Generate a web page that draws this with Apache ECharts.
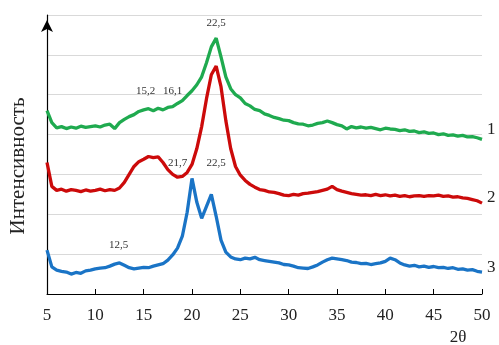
<!DOCTYPE html>
<html><head><meta charset="utf-8">
<script src="https://cdn.jsdelivr.net/npm/echarts@6/dist/echarts.min.js"></script>
<style>html,body{margin:0;padding:0;background:#fff}#c{width:499px;height:345px}</style>
</head><body><div id="c"></div>
<script>
const twoTheta = [5,5.5,6,6.5,7,7.5,8,8.5,9,9.5,10,10.5,11,11.5,12,12.5,13,13.5,14,14.5,15,15.5,16,16.5,17,17.5,18,18.5,19,19.5,20,20.5,21,21.5,22,22.5,23,23.5,24,24.5,25,25.5,26,26.5,27,27.5,28,28.5,29,29.5,30,30.5,31,31.5,32,32.5,33,33.5,34,34.5,35,35.5,36,36.5,37,37.5,38,38.5,39,39.5,40,40.5,41,41.5,42,42.5,43,43.5,44,44.5,45,45.5,46,46.5,47,47.5,48,48.5,49,49.5,50];
const curve1 = [4.6,4.3,4.17,4.2,4.15,4.19,4.16,4.21,4.18,4.2,4.22,4.19,4.24,4.26,4.15,4.3,4.38,4.45,4.5,4.58,4.62,4.65,4.6,4.66,4.62,4.68,4.7,4.78,4.85,4.98,5.1,5.25,5.45,5.8,6.2,6.42,5.95,5.45,5.15,5.0,4.92,4.78,4.72,4.63,4.6,4.52,4.48,4.43,4.4,4.36,4.35,4.3,4.27,4.26,4.22,4.24,4.28,4.3,4.34,4.3,4.25,4.22,4.14,4.2,4.17,4.19,4.16,4.18,4.15,4.12,4.16,4.14,4.13,4.1,4.12,4.08,4.09,4.05,4.07,4.03,4.04,4.0,4.02,3.98,3.99,3.96,3.98,3.94,3.95,3.92,3.88];
const curve2 = [3.3,2.7,2.6,2.63,2.58,2.62,2.6,2.57,2.61,2.58,2.6,2.63,2.59,2.62,2.6,2.66,2.8,3.0,3.2,3.32,3.38,3.45,3.42,3.44,3.3,3.12,3.0,2.93,2.95,3.05,3.25,3.65,4.2,4.9,5.5,5.72,5.2,4.35,3.65,3.2,2.98,2.85,2.75,2.68,2.62,2.6,2.56,2.55,2.52,2.48,2.47,2.5,2.48,2.52,2.53,2.55,2.57,2.6,2.63,2.7,2.62,2.58,2.55,2.52,2.5,2.48,2.49,2.47,2.5,2.47,2.49,2.46,2.48,2.45,2.47,2.44,2.46,2.47,2.45,2.47,2.46,2.48,2.45,2.46,2.43,2.44,2.41,2.4,2.37,2.34,2.28];
const curve3 = [1.1,0.68,0.6,0.57,0.55,0.5,0.54,0.52,0.58,0.6,0.63,0.65,0.66,0.7,0.75,0.78,0.72,0.66,0.63,0.65,0.67,0.66,0.7,0.73,0.76,0.85,0.98,1.15,1.45,2.05,2.9,2.3,1.9,2.2,2.5,1.95,1.35,1.05,0.93,0.88,0.86,0.9,0.88,0.92,0.86,0.84,0.82,0.8,0.78,0.74,0.73,0.7,0.66,0.65,0.64,0.68,0.73,0.8,0.86,0.9,0.88,0.86,0.84,0.8,0.79,0.76,0.77,0.74,0.76,0.78,0.82,0.9,0.86,0.78,0.73,0.7,0.72,0.68,0.7,0.67,0.69,0.66,0.67,0.64,0.66,0.62,0.63,0.6,0.61,0.57,0.55];
const seriesNames = ['1','2','3'];
const xTicks = [5,10,15,20,25,30,35,40,45,50];
const peakText = ['22,5','15,2','16,1','21,7','22,5','12,5'];
const peakX = [22.5,15.2,18.0,18.5,22.5,12.4];
const peakY = [6.8,5.1,5.1,3.28,3.28,1.23];

const serif = '"Liberation Serif","DejaVu Serif",serif';
const colors = ['#1faa4f','#cc0a0a','#1a74c6'];
const endOffsets = [[1,-10],[1,-6],[1,-5]];
const curves = [curve1, curve2, curve3];

const chart = echarts.init(document.getElementById('c'), null, {renderer:'canvas'});
const series = curves.map((c, k) => ({
  name: seriesNames[k],
  type: 'line',
  data: twoTheta.map((x, i) => [x, c[i]]),
  showSymbol: false,
  symbol: 'none',
  clip: false,
  lineStyle: {color: colors[k], width: 3.3},
  itemStyle: {color: colors[k]},
  endLabel: {show: true, formatter: seriesNames[k], offset: endOffsets[k], distance: 4, fontFamily: serif, fontSize: 17, color: '#222'},
  animation: false
}));
series[2].markPoint = {
  symbol: 'circle', symbolSize: 0, animation: false,
  label: {show: true, position: 'inside', formatter: p => p.name, fontFamily: serif, fontSize: 11, color: '#333'},
  data: peakText.map((t, i) => ({name: t, coord: [peakX[i], peakY[i]]}))
};

chart.setOption({
  animation: false,
  grid: {left: 47, right: 17, top: 15, bottom: 51},
  xAxis: {
    type: 'value', min: 5, max: 50, interval: 5,
    axisLine: {show: true, lineStyle: {color: '#000', width: 1}},
    axisTick: {show: true, inside: true, length: 5, lineStyle: {color: '#000'}},
    axisLabel: {margin: 13, fontFamily: serif, fontSize: 17, color: '#222',
      formatter: v => xTicks.indexOf(v) >= 0 ? String(v) : ''},
    splitLine: {show: false}
  },
  yAxis: {
    type: 'value', min: 0, max: 7, interval: 1,
    axisLine: {show: true, lineStyle: {color: '#000', width: 1.2}, symbol: ['none','arrow'], symbolSize: [9,12], symbolOffset: [0,-5]},
    axisTick: {show: false},
    axisLabel: {show: false},
    splitLine: {show: true, lineStyle: {color: '#d9d9d9', width: 1}}
  },
  graphic: [
    {type: 'text', x: 18, y: 166, rotation: Math.PI/2,
      style: {text: 'Интенсивность', font: '21px ' + serif, fill: '#222', textAlign: 'center', textVerticalAlign: 'middle'}},
    {type: 'text', x: 458, y: 338,
      style: {text: '2θ', font: '17px ' + serif, fill: '#222', textAlign: 'center', textVerticalAlign: 'middle'}}
  ],
  series: series
});
</script></body></html>
